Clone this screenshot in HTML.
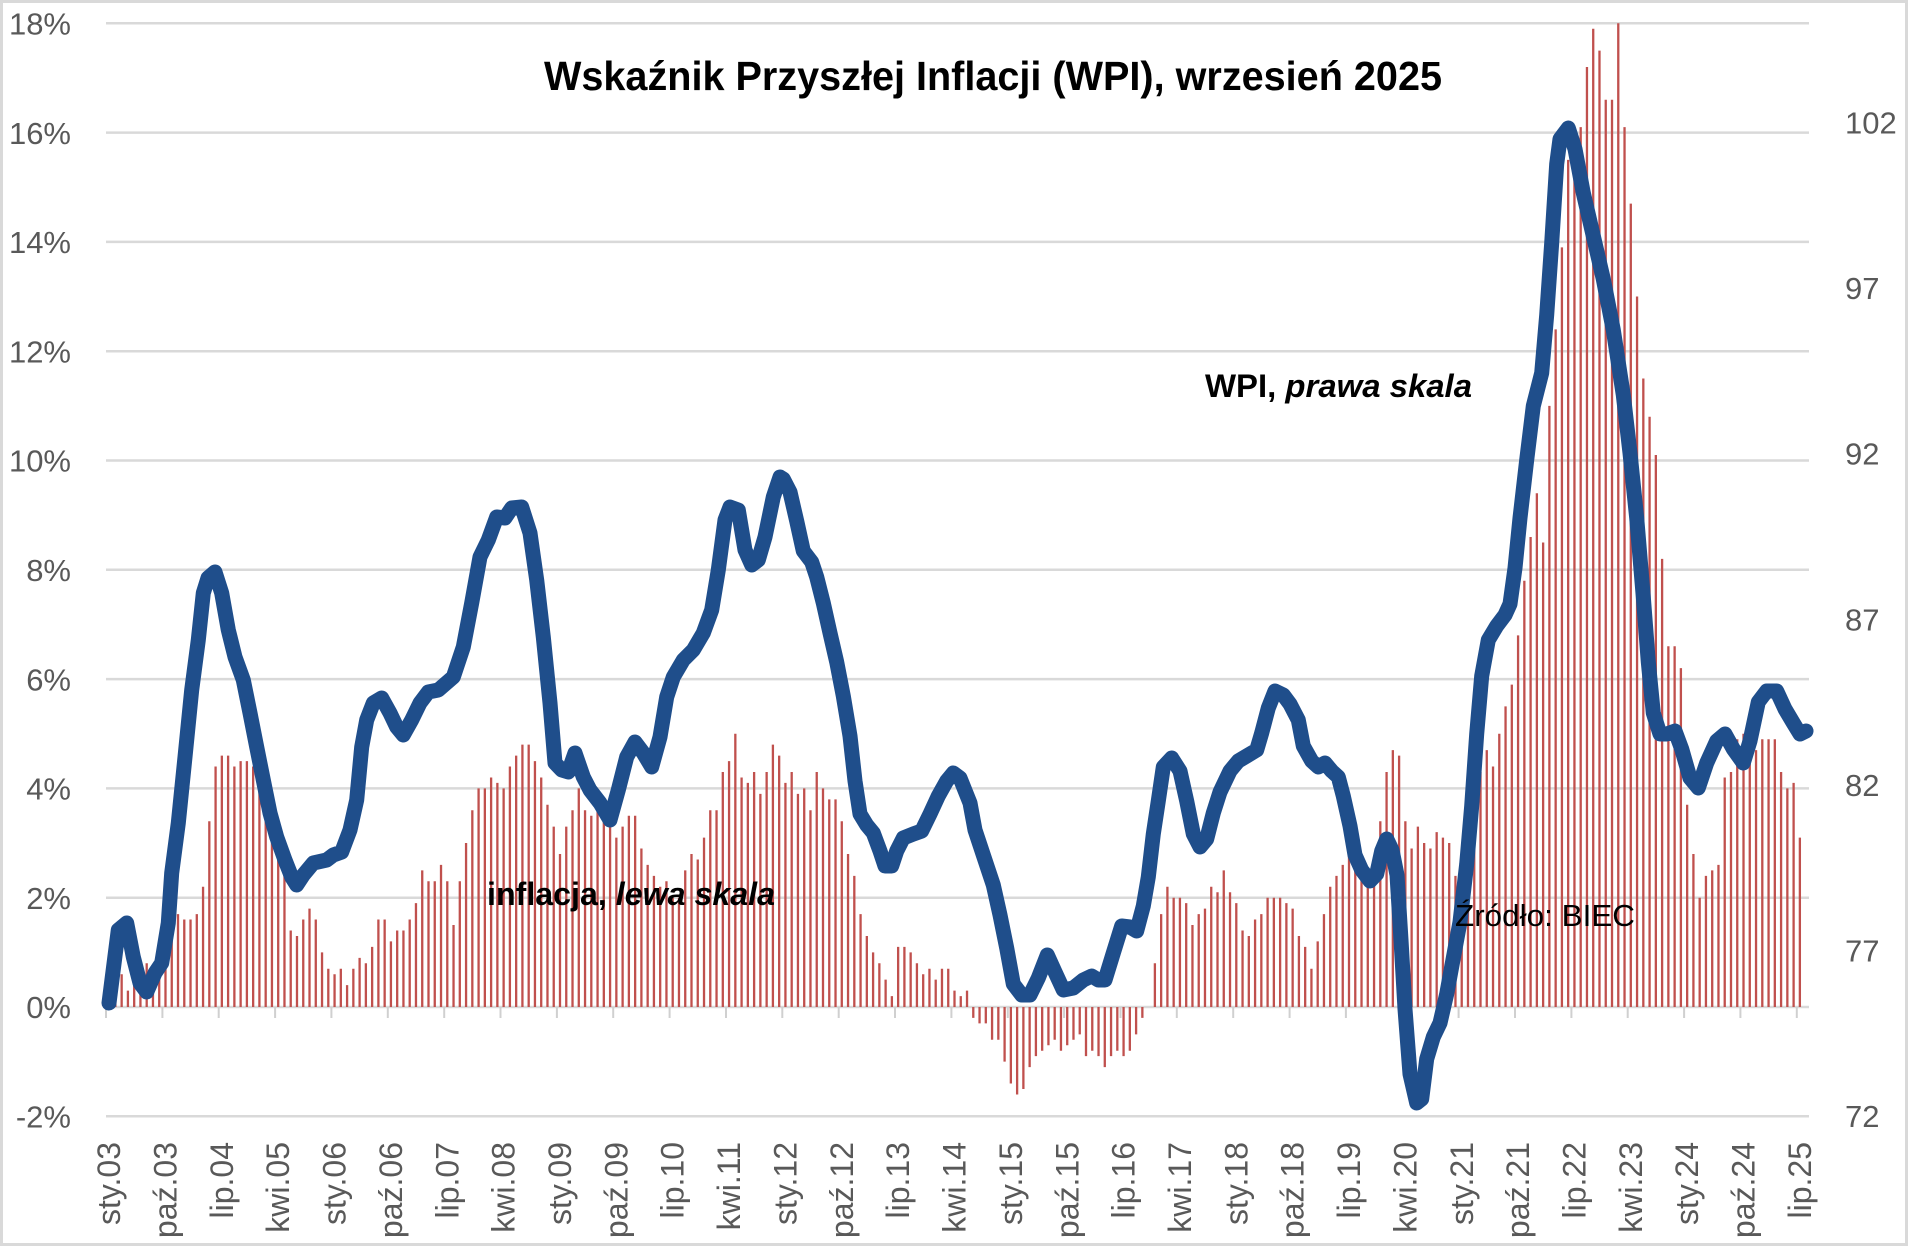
<!DOCTYPE html>
<html>
<head>
<meta charset="utf-8">
<style>
html,body{margin:0;padding:0;background:#fff;}
svg{display:block;}
.ax{font-family:"Liberation Sans",Arial,sans-serif;font-size:31px;fill:#595959;}
.xl{font-family:"Liberation Sans",Arial,sans-serif;font-size:32px;fill:#595959;}
.t{font-family:"Liberation Sans",Arial,sans-serif;fill:#000;}
</style>
</head>
<body>
<svg width="1908" height="1246" viewBox="0 0 1908 1246" xmlns="http://www.w3.org/2000/svg">
<rect x="0" y="0" width="1908" height="1246" fill="#fff"/>
<rect x="1.5" y="1.5" width="1905" height="1243" fill="none" stroke="#d9d9d9" stroke-width="3"/>

<!-- gridlines -->
<g stroke="#d9d9d9" stroke-width="2.5">
<line x1="106" y1="23.3" x2="1809" y2="23.3"/>
<line x1="106" y1="132.6" x2="1809" y2="132.6"/>
<line x1="106" y1="241.9" x2="1809" y2="241.9"/>
<line x1="106" y1="351.2" x2="1809" y2="351.2"/>
<line x1="106" y1="460.5" x2="1809" y2="460.5"/>
<line x1="106" y1="569.8" x2="1809" y2="569.8"/>
<line x1="106" y1="679.1" x2="1809" y2="679.1"/>
<line x1="106" y1="788.4" x2="1809" y2="788.4"/>
<line x1="106" y1="897.7" x2="1809" y2="897.7"/>
<line x1="106" y1="1007" x2="1809" y2="1007"/>
<line x1="106" y1="1116.3" x2="1809" y2="1116.3"/>
</g>

<!-- x ticks -->
<g stroke="#d0d0d0" stroke-width="2">
<line x1="106" y1="1007" x2="106" y2="1018"/><line x1="162.4" y1="1007" x2="162.4" y2="1018"/><line x1="218.7" y1="1007" x2="218.7" y2="1018"/><line x1="275.1" y1="1007" x2="275.1" y2="1018"/><line x1="331.4" y1="1007" x2="331.4" y2="1018"/><line x1="387.8" y1="1007" x2="387.8" y2="1018"/><line x1="444.2" y1="1007" x2="444.2" y2="1018"/><line x1="500.5" y1="1007" x2="500.5" y2="1018"/><line x1="556.9" y1="1007" x2="556.9" y2="1018"/><line x1="613.2" y1="1007" x2="613.2" y2="1018"/><line x1="669.6" y1="1007" x2="669.6" y2="1018"/><line x1="726" y1="1007" x2="726" y2="1018"/><line x1="782.3" y1="1007" x2="782.3" y2="1018"/><line x1="838.7" y1="1007" x2="838.7" y2="1018"/><line x1="895" y1="1007" x2="895" y2="1018"/><line x1="951.4" y1="1007" x2="951.4" y2="1018"/><line x1="1007.8" y1="1007" x2="1007.8" y2="1018"/><line x1="1064.1" y1="1007" x2="1064.1" y2="1018"/><line x1="1120.5" y1="1007" x2="1120.5" y2="1018"/><line x1="1176.8" y1="1007" x2="1176.8" y2="1018"/><line x1="1233.2" y1="1007" x2="1233.2" y2="1018"/><line x1="1289.6" y1="1007" x2="1289.6" y2="1018"/><line x1="1345.9" y1="1007" x2="1345.9" y2="1018"/><line x1="1402.3" y1="1007" x2="1402.3" y2="1018"/><line x1="1458.6" y1="1007" x2="1458.6" y2="1018"/><line x1="1515" y1="1007" x2="1515" y2="1018"/><line x1="1571.4" y1="1007" x2="1571.4" y2="1018"/><line x1="1627.7" y1="1007" x2="1627.7" y2="1018"/><line x1="1684.1" y1="1007" x2="1684.1" y2="1018"/><line x1="1740.4" y1="1007" x2="1740.4" y2="1018"/><line x1="1796.8" y1="1007" x2="1796.8" y2="1018"/>
</g>

<!-- inflation bars (x in months, y in %) -->
<g transform="translate(109.13,1007) scale(6.262,-54.65)">
<path fill="none" stroke="#C0504D" stroke-width="2.3" vector-effect="non-scaling-stroke" d="
M0,0V0.5M1,0V0.5M2,0V0.6M3,0V0.3M4,0V0.4M5,0V0.8M6,0V0.8M7,0V0.7M8,0V0.9M9,0V1.3M10,0V1.6M11,0V1.7
M12,0V1.6M13,0V1.6M14,0V1.7M15,0V2.2M16,0V3.4M17,0V4.4M18,0V4.6M19,0V4.6M20,0V4.4M21,0V4.5M22,0V4.5M23,0V4.4
M24,0V4.0M25,0V3.6M26,0V3.4M27,0V3.0M28,0V2.5M29,0V1.4M30,0V1.3M31,0V1.6M32,0V1.8M33,0V1.6M34,0V1.0M35,0V0.7
M36,0V0.6M37,0V0.7M38,0V0.4M39,0V0.7M40,0V0.9M41,0V0.8M42,0V1.1M43,0V1.6M44,0V1.6M45,0V1.2M46,0V1.4M47,0V1.4
M48,0V1.6M49,0V1.9M50,0V2.5M51,0V2.3M52,0V2.3M53,0V2.6M54,0V2.3M55,0V1.5M56,0V2.3M57,0V3.0M58,0V3.6M59,0V4.0
M60,0V4.0M61,0V4.2M62,0V4.1M63,0V4.0M64,0V4.4M65,0V4.6M66,0V4.8M67,0V4.8M68,0V4.5M69,0V4.2M70,0V3.7M71,0V3.3
M72,0V2.8M73,0V3.3M74,0V3.6M75,0V4.0M76,0V3.6M77,0V3.5M78,0V3.6M79,0V3.7M80,0V3.4M81,0V3.1M82,0V3.3M83,0V3.5
M84,0V3.5M85,0V2.9M86,0V2.6M87,0V2.4M88,0V2.2M89,0V2.3M90,0V2.0M91,0V2.0M92,0V2.5M93,0V2.8M94,0V2.7M95,0V3.1
M96,0V3.6M97,0V3.6M98,0V4.3M99,0V4.5M100,0V5.0M101,0V4.2M102,0V4.1M103,0V4.3M104,0V3.9M105,0V4.3M106,0V4.8M107,0V4.6
M108,0V4.1M109,0V4.3M110,0V3.9M111,0V4.0M112,0V3.6M113,0V4.3M114,0V4.0M115,0V3.8M116,0V3.8M117,0V3.4M118,0V2.8M119,0V2.4
M120,0V1.7M121,0V1.3M122,0V1.0M123,0V0.8M124,0V0.5M125,0V0.2M126,0V1.1M127,0V1.1M128,0V1.0M129,0V0.8M130,0V0.6M131,0V0.7
M132,0V0.5M133,0V0.7M134,0V0.7M135,0V0.3M136,0V0.2M137,0V0.3M138,0V-0.2M139,0V-0.3M140,0V-0.3M141,0V-0.6M142,0V-0.6M143,0V-1.0
M144,0V-1.4M145,0V-1.6M146,0V-1.5M147,0V-1.1M148,0V-0.9M149,0V-0.8M150,0V-0.7M151,0V-0.6M152,0V-0.8M153,0V-0.7M154,0V-0.6M155,0V-0.5
M156,0V-0.9M157,0V-0.8M158,0V-0.9M159,0V-1.1M160,0V-0.9M161,0V-0.8M162,0V-0.9M163,0V-0.8M164,0V-0.5M165,0V-0.2M167,0V0.8
M168,0V1.7M169,0V2.2M170,0V2.0M171,0V2.0M172,0V1.9M173,0V1.5M174,0V1.7M175,0V1.8M176,0V2.2M177,0V2.1M178,0V2.5M179,0V2.1
M180,0V1.9M181,0V1.4M182,0V1.3M183,0V1.6M184,0V1.7M185,0V2.0M186,0V2.0M187,0V2.0M188,0V1.9M189,0V1.8M190,0V1.3M191,0V1.1
M192,0V0.7M193,0V1.2M194,0V1.7M195,0V2.2M196,0V2.4M197,0V2.6M198,0V2.9M199,0V2.9M200,0V2.6M201,0V2.5M202,0V2.6M203,0V3.4
M204,0V4.3M205,0V4.7M206,0V4.6M207,0V3.4M208,0V2.9M209,0V3.3M210,0V3.0M211,0V2.9M212,0V3.2M213,0V3.1M214,0V3.0M215,0V2.4
M216,0V2.6M217,0V2.4M218,0V3.2M219,0V4.3M220,0V4.7M221,0V4.4M222,0V5.0M223,0V5.5M224,0V5.9M225,0V6.8M226,0V7.8M227,0V8.6
M228,0V9.4M229,0V8.5M230,0V11.0M231,0V12.4M232,0V13.9M233,0V15.5M234,0V15.6M235,0V16.1M236,0V17.2M237,0V17.9M238,0V17.5M239,0V16.6
M240,0V16.6M241,0V18.0M242,0V16.1M243,0V14.7M244,0V13.0M245,0V11.5M246,0V10.8M247,0V10.1M248,0V8.2M249,0V6.6M250,0V6.6M251,0V6.2
M252,0V3.7M253,0V2.8M254,0V2.0M255,0V2.4M256,0V2.5M257,0V2.6M258,0V4.2M259,0V4.3M260,0V4.9M261,0V5.0M262,0V4.7M263,0V4.7
M264,0V4.9M265,0V4.9M266,0V4.9M267,0V4.3M268,0V4.0M269,0V4.1M270,0V3.1"/>
</g>

<!-- WPI line -->
<polyline fill="none" stroke="#1F4E8B" stroke-width="15" stroke-linejoin="round" stroke-linecap="round" points="109,1003 118.3,930 126.7,923 133.3,957 140,983 146.7,992 155,973 161.7,963 168.3,923 171.7,873 178.3,823 185,757 191.7,690 198.3,640 203.3,593 208,578 215,572 221.7,593 228.3,630 235,657 243.3,680 250,713 256.7,747 263.3,780 270,813 276.7,837 285,860 291.7,877 296.7,885 303.3,875 313.3,863 326.7,860 333.3,855 341.7,852 350,830 356.7,800 361.7,747 366.7,720 373.3,703 381.7,698 390,713 396.7,727 403.3,735 411.7,720 420,703 428.3,692 438.3,690 453.3,677 463.3,647 471.7,603 480,557 488.3,540 496.7,517 505,518 511.7,508 521.7,507 530,533 536.7,580 543.3,637 550,703 555,763 561.7,770 568.3,772 575,753 583.3,777 590,790 600,803 610,820 618.3,790 626.7,757 635,742 643.3,753 651.7,767 660,737 666.7,697 673.3,677 683.3,660 693.3,650 703.3,633 711.7,610 718.3,570 725,520 730,507 738.3,510 745,550 751.7,565 758.3,560 765,537 773.3,497 780,477 783.3,479 790,492 796.7,521 803.3,551 811.7,562 816.7,577 823.3,603 830,633 836.7,662 843.3,696 850,736 855,781 860,814 866.7,825 873.3,833 880,851 885,866 891.7,866 896.7,851 903.3,838 913.3,834 921.7,831 930,814 938.3,796 946.7,781 953.3,773 960,778 970,803 975,830 983.3,855 993.3,885 1000,915 1006.7,948 1013.3,984 1021.7,995 1030,995 1038.3,978 1047.3,955 1055,972 1063.3,990 1073.3,988 1083.3,980 1091.7,976 1098.3,980 1105,980 1113.3,953 1121.7,926 1130,927 1136.7,931 1143.3,906 1148.3,877 1153.3,834 1158.3,801 1163.3,767 1171.7,758 1180,771 1186.7,801 1193.3,834 1200,847 1206.7,839 1213.3,813 1220,792 1230,771 1238.3,761 1246.7,756 1256.7,750 1261.7,733 1268.3,708 1275,691 1283.3,695 1290,704 1298.3,720 1303.3,746 1311.7,761 1318.3,767 1325,763 1331.7,771 1338.3,777 1343.3,796 1350,826 1355,855 1361.7,870 1370,881 1376.7,874 1381.7,851 1386.7,839 1392,850 1397,875 1401,940 1405,1009 1410,1074 1416.7,1103 1421.7,1099 1426.7,1059 1433.3,1037 1440,1023 1446.7,994 1453.3,958 1460,922 1466.7,864 1471.7,806 1476.7,734 1481.7,676 1488.3,640 1496.7,626 1505,615 1510,604 1515,568 1520,518 1526.7,460 1533.3,406 1541.7,373 1546.7,315 1551.7,243 1556.7,164 1560,139 1568.3,128 1575,149 1583.3,193 1593.3,236 1603.3,279 1613.3,330 1623.3,395 1630,453 1636.7,518 1643.3,597 1648.3,662 1653.3,713 1660,734 1666.7,734 1675,731 1681.7,749 1690,778 1698.3,788 1706.7,763 1716.7,741 1725,734 1733.3,749 1743.3,763 1750,741 1758.3,702 1766.7,691 1776.7,691 1785,709 1793.3,723 1800,734 1806,731"/>

<!-- left axis labels -->
<g class="ax" text-anchor="end">
<text x="71" y="34.5">18%</text>
<text x="71" y="143.8">16%</text>
<text x="71" y="253.1">14%</text>
<text x="71" y="362.4">12%</text>
<text x="71" y="471.7">10%</text>
<text x="71" y="581">8%</text>
<text x="71" y="690.3">6%</text>
<text x="71" y="799.6">4%</text>
<text x="71" y="908.9">2%</text>
<text x="71" y="1018.2">0%</text>
<text x="71" y="1127.5">-2%</text>
</g>

<!-- right axis labels -->
<g class="ax">
<text x="1845" y="133.5">102</text>
<text x="1845" y="299.1">97</text>
<text x="1845" y="464.7">92</text>
<text x="1845" y="630.3">87</text>
<text x="1845" y="795.9">82</text>
<text x="1845" y="961.4">77</text>
<text x="1845" y="1127">72</text>
</g>

<!-- x axis labels -->
<g class="xl" text-anchor="end">
<text transform="translate(120.1,1142) rotate(-90)">sty.03</text>
<text transform="translate(176.5,1142) rotate(-90)">paź.03</text>
<text transform="translate(232.9,1142) rotate(-90)">lip.04</text>
<text transform="translate(289.2,1142) rotate(-90)">kwi.05</text>
<text transform="translate(345.6,1142) rotate(-90)">sty.06</text>
<text transform="translate(401.9,1142) rotate(-90)">paź.06</text>
<text transform="translate(458.3,1142) rotate(-90)">lip.07</text>
<text transform="translate(514.7,1142) rotate(-90)">kwi.08</text>
<text transform="translate(571,1142) rotate(-90)">sty.09</text>
<text transform="translate(627.4,1142) rotate(-90)">paź.09</text>
<text transform="translate(683.7,1142) rotate(-90)">lip.10</text>
<text transform="translate(740.1,1142) rotate(-90)">kwi.11</text>
<text transform="translate(796.5,1142) rotate(-90)">sty.12</text>
<text transform="translate(852.8,1142) rotate(-90)">paź.12</text>
<text transform="translate(909.2,1142) rotate(-90)">lip.13</text>
<text transform="translate(965.5,1142) rotate(-90)">kwi.14</text>
<text transform="translate(1021.9,1142) rotate(-90)">sty.15</text>
<text transform="translate(1078.3,1142) rotate(-90)">paź.15</text>
<text transform="translate(1134.6,1142) rotate(-90)">lip.16</text>
<text transform="translate(1191,1142) rotate(-90)">kwi.17</text>
<text transform="translate(1247.3,1142) rotate(-90)">sty.18</text>
<text transform="translate(1303.7,1142) rotate(-90)">paź.18</text>
<text transform="translate(1360.1,1142) rotate(-90)">lip.19</text>
<text transform="translate(1416.4,1142) rotate(-90)">kwi.20</text>
<text transform="translate(1472.8,1142) rotate(-90)">sty.21</text>
<text transform="translate(1529.1,1142) rotate(-90)">paź.21</text>
<text transform="translate(1585.5,1142) rotate(-90)">lip.22</text>
<text transform="translate(1641.9,1142) rotate(-90)">kwi.23</text>
<text transform="translate(1698.2,1142) rotate(-90)">sty.24</text>
<text transform="translate(1754.6,1142) rotate(-90)">paź.24</text>
<text transform="translate(1810.9,1142) rotate(-90)">lip.25</text>
</g>

<!-- title & annotations -->
<text class="t" x="544" y="90" font-size="41" font-weight="bold" textLength="898" lengthAdjust="spacingAndGlyphs">Wskaźnik Przyszłej Inflacji (WPI), wrzesień 2025</text>
<text class="t" x="1205" y="397" font-size="32" font-weight="bold" textLength="267" lengthAdjust="spacingAndGlyphs">WPI, <tspan font-style="italic">prawa skala</tspan></text>
<text class="t" x="487" y="905" font-size="32" font-weight="bold" textLength="288" lengthAdjust="spacingAndGlyphs">inflacja, <tspan font-style="italic">lewa skala</tspan></text>
<text class="t" x="1455" y="926" font-size="31" textLength="180" lengthAdjust="spacingAndGlyphs">Źródło: BIEC</text>
</svg>
</body>
</html>
